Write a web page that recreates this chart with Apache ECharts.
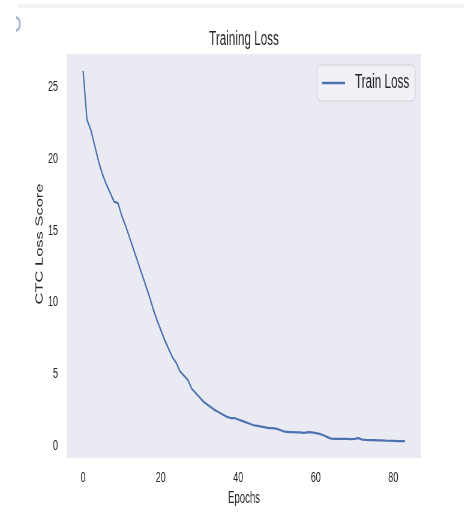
<!DOCTYPE html>
<html>
<head>
<meta charset="utf-8">
<script src="https://cdn.jsdelivr.net/npm/echarts@6/dist/echarts.min.js"></script>
<style>
html,body{margin:0;padding:0;background:#fff;overflow:hidden;width:464px;height:512px;}
#c{height:512px;transform-origin:0 0;}
</style>
</head>
<body>
<div id="c"></div>
<script>
// Data
const epochs = [];
for (let i = 0; i <= 83; i++) epochs.push(i);
const trainLoss = [
  26.1, 22.7, 22.0, 20.9, 19.8, 18.9, 18.2, 17.6, 17.0, 16.9,
  16.0, 15.3, 14.5, 13.7, 12.9, 12.1, 11.3, 10.5, 9.6, 8.8,
  8.1, 7.4, 6.8, 6.2, 5.8, 5.2, 4.9, 4.6, 4.0, 3.7,
  3.4, 3.1, 2.9, 2.7, 2.5, 2.35, 2.2, 2.05, 1.95, 1.95,
  1.85, 1.75, 1.65, 1.55, 1.45, 1.4, 1.35, 1.3, 1.25, 1.25,
  1.2, 1.1, 1.0, 0.97, 0.97, 0.95, 0.95, 0.92, 0.97, 0.95,
  0.9, 0.85, 0.75, 0.62, 0.52, 0.5, 0.5, 0.5, 0.5, 0.48,
  0.5, 0.55, 0.45, 0.43, 0.42, 0.42, 0.4, 0.4, 0.38, 0.37,
  0.36, 0.35, 0.35, 0.35
];
const xTicks = [0, 20, 40, 60, 80];
const yTicks = [0, 5, 10, 15, 20, 25];
const titleText = 'Training Loss';
const seriesName = 'Train Loss';
const xName = 'Epochs';
const yName = 'CTC Loss Score';

// The reference figure is horizontally squeezed; draw wider and squeeze it the same way.
const SX = 0.6;
const W = 464 / SX;
const el = document.getElementById('c');
el.style.width = W + 'px';
el.style.transform = 'scaleX(' + SX + ')';
const px = v => v / SX; // convert picture x-distance to chart x-distance

const FONT = "'Liberation Sans', Arial, sans-serif";
const TXT = '#262626';
const chart = echarts.init(el, null, {renderer: 'canvas', width: W, height: 512});
chart.setOption({
  animation: false,
  backgroundColor: '#ffffff',
  title: {
    text: titleText, left: px(241), top: 25, textAlign: 'center',
    textStyle: {fontFamily: FONT, fontSize: 19.5, fontWeight: 'normal', color: TXT}
  },
  legend: {
    left: px(317), top: 65, padding: [8, px(6), 8, px(5)],
    itemWidth: px(23), itemHeight: 10, itemGap: 6,
    backgroundColor: 'rgba(255,255,255,0.3)',
    borderColor: '#cfcfd6', borderWidth: 1, borderRadius: 6,
    textStyle: {fontFamily: FONT, fontSize: 19.5, color: TXT, padding: [0, 0, 0, px(10) - 5]},
    data: [{name: seriesName, icon: 'path://M0,0 L24,0 L24,1.7 L0,1.7 Z'}]
  },
  grid: {left: px(67), right: W - px(421), top: 54, bottom: 52, show: true, backgroundColor: '#EAEAF2', borderWidth: 0},
  xAxis: {
    type: 'value', min: -4.15, max: 87.15,
    axisLine: {show: false}, axisTick: {show: false}, splitLine: {show: false},
    axisLabel: {customValues: xTicks, margin: 12, fontFamily: FONT, fontSize: 15, color: TXT},
    name: xName, nameLocation: 'middle', nameGap: 33, nameMoveOverlap: false,
    nameTextStyle: {fontFamily: FONT, fontSize: 16, color: TXT}
  },
  yAxis: {
    type: 'value', min: -0.83, max: 27.28,
    axisLine: {show: false}, axisTick: {show: false}, splitLine: {show: false},
    axisLabel: {customValues: yTicks, margin: px(9), fontFamily: FONT, fontSize: 15, color: TXT},
    name: yName, nameLocation: 'middle', nameGap: 37, nameRotate: 90, nameMoveOverlap: false,
    nameTextStyle: {fontFamily: FONT, fontSize: 16.5, color: TXT, padding: [0, 0, 0, 24]}
  },
  graphic: [
    {type: 'rect', shape: {x: px(18), y: 4, width: W, height: 4}, style: {fill: '#f3f3f3'}, silent: true},
    {type: 'arc', shape: {cx: px(16), cy: 24, r: 6.5, startAngle: -Math.PI / 2, endAngle: Math.PI / 2}, style: {stroke: '#9aaed0', lineWidth: 2.5, fill: null}, silent: true}
  ],
  series: [{
    name: seriesName, type: 'line',
    data: epochs.map((e, i) => [e, trainLoss[i]]),
    symbol: 'none', showSymbol: false,
    lineStyle: {color: '#4C72B0', width: 2.2},
    itemStyle: {color: '#4C72B0'}
  }]
});
</script>
</body>
</html>
